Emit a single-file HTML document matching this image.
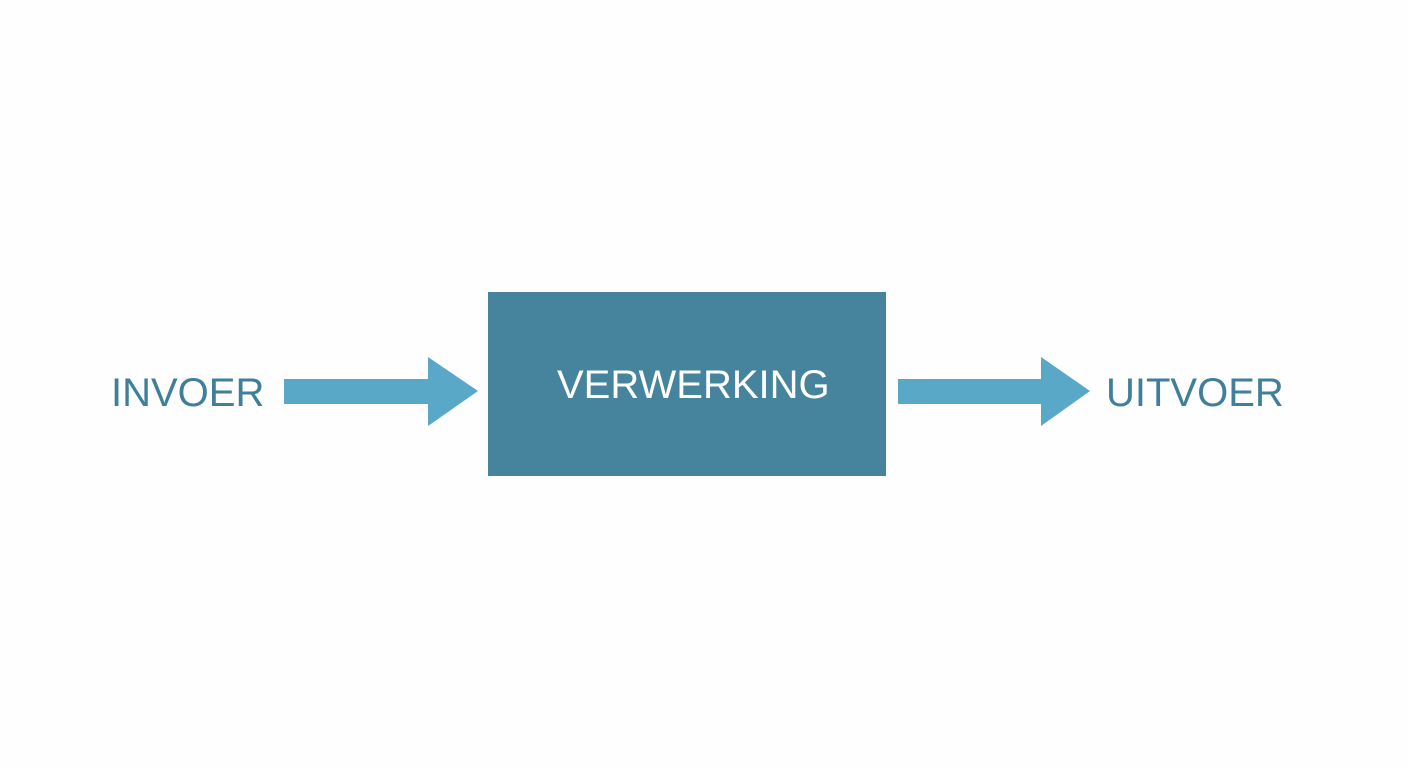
<!DOCTYPE html>
<html><head><style>
html,body{margin:0;padding:0;background:#fefefe;}
body{width:1408px;height:768px;position:relative;overflow:hidden;font-family:"Liberation Sans",sans-serif;}
.t{position:absolute;font-size:40px;line-height:1;white-space:nowrap;}
</style></head><body>
<svg width="1408" height="768" style="position:absolute;left:0;top:0">
<rect x="488" y="292" width="398" height="184" fill="#46839d"/>
<polygon points="284,379 428,379 428,357 478,391 428,426 428,404 284,404" fill="#5aa8c7"/>
<polygon points="898,379 1041,379 1041,357 1090,391 1041,426 1041,404 898,404" fill="#5aa8c7"/>
</svg>
<div class="t" style="left:111px;top:373px;color:#3f7f9a;">INVOER</div>
<div class="t" style="left:557px;top:365px;color:#fff;">VERWERKING</div>
<div class="t" style="left:1106px;top:373px;color:#3f7f9a;">UITVOER</div>
</body></html>
